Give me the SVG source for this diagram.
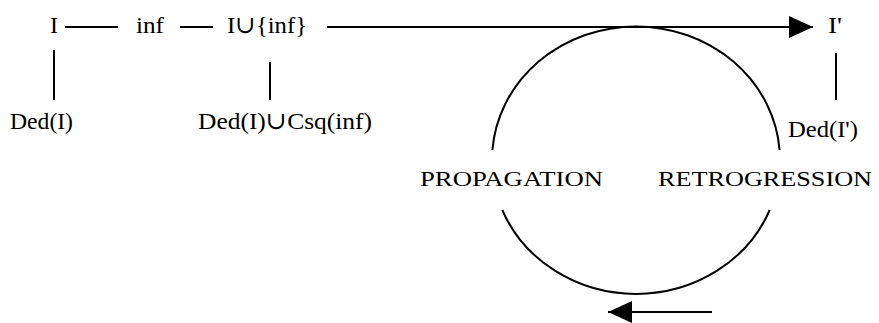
<svg xmlns="http://www.w3.org/2000/svg" width="879" height="323" viewBox="0 0 879 323">
<style>
text{font-family:'Liberation Serif','Times New Roman','DejaVu Serif',serif;fill:#000;}
.big{font-size:24px;}
.cap{font-size:21px;}
.ln{stroke:#000;stroke-width:2;fill:none;}
</style>
<defs>
<marker id="ah" markerUnits="userSpaceOnUse" markerWidth="24" markerHeight="22" refX="24" refY="11" orient="auto">
<path d="M0,0 L24,11 L0,22 z" fill="#000"/>
</marker>
</defs>
<rect width="879" height="323" fill="#fff"/>
<g id="connectors">
<line class="ln" x1="65" y1="27" x2="118" y2="27"/>
<line class="ln" x1="180" y1="27" x2="213" y2="27"/>
<line class="ln" x1="327" y1="27" x2="813" y2="27" marker-end="url(#ah)"/>
<line class="ln" x1="54" y1="50" x2="54" y2="100"/>
<line class="ln" x1="270" y1="62" x2="270" y2="100"/>
<line class="ln" x1="836" y1="53" x2="836" y2="100"/>
<path class="ln" d="M492.4,150 A144,133.5 0 0 1 779.6,150"/>
<path class="ln" d="M502.3,210 A144,133.5 0 0 0 769.7,210"/>
<line class="ln" x1="712" y1="312" x2="608" y2="312" marker-end="url(#ah)"/>
</g>
<g id="n-I"><text class="big" font-family="Liberation Serif, serif" x="50" y="33" textLength="8" lengthAdjust="spacingAndGlyphs">I</text></g>
<g id="n-inf"><text class="big" font-family="Liberation Serif, serif" x="136" y="33" textLength="28" lengthAdjust="spacingAndGlyphs">inf</text></g>
<g id="n-Iuinf"><text class="big" font-family="Liberation Serif, serif" x="227" y="33" textLength="80" lengthAdjust="spacingAndGlyphs">I∪{inf}</text></g>
<g id="n-Iprime"><text class="big" font-family="Liberation Serif, serif" x="828" y="33" textLength="14" lengthAdjust="spacingAndGlyphs">I'</text></g>
<g id="n-DedI"><text class="big" font-family="Liberation Serif, serif" x="10" y="129" textLength="63" lengthAdjust="spacingAndGlyphs">Ded(I)</text></g>
<g id="n-DedCsq"><text class="big" font-family="Liberation Serif, serif" x="198" y="129" textLength="174" lengthAdjust="spacingAndGlyphs">Ded(I)∪Csq(inf)</text></g>
<g id="n-DedIprime"><text class="big" font-family="Liberation Serif, serif" x="788" y="137" textLength="70" lengthAdjust="spacingAndGlyphs">Ded(I')</text></g>
<g id="n-prop"><text class="cap" font-family="Liberation Serif, serif" x="420" y="186" textLength="183" lengthAdjust="spacingAndGlyphs">PROPAGATION</text></g>
<g id="n-retro"><text class="cap" font-family="Liberation Serif, serif" x="658" y="186" textLength="214" lengthAdjust="spacingAndGlyphs">RETROGRESSION</text></g>
</svg>
